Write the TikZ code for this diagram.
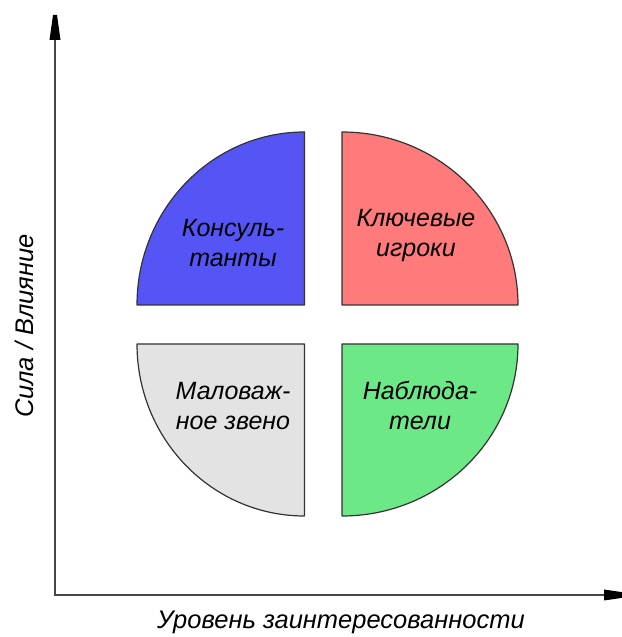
\documentclass[tikz,border=0pt]{standalone}
\usepackage{fontspec}
\setmainfont{Liberation Sans}
\definecolor{qblue}{HTML}{5555F5}
\definecolor{qred}{HTML}{FF7A7A}
\definecolor{qgray}{HTML}{E3E3E3}
\definecolor{qgreen}{HTML}{6DE887}
\definecolor{ink}{HTML}{333333}
\begin{document}
\begin{tikzpicture}[x=1pt,y=1pt,
  quad/.style={draw=ink, line width=1.2pt, line join=round},
  axis/.style={draw=ink!90, line width=1.5pt},
  tip/.style={fill=black},
  lab/.style={font=\itshape\fontsize{25}{30}\selectfont, align=center, anchor=base, inner sep=0pt},
  axlab/.style={font=\itshape\fontsize{25.5}{30}\selectfont, anchor=base, inner sep=0pt}]
\useasboundingbox (0,0) rectangle (621,637);
% quadrants
\path[quad, fill=qblue] (304.5,332) -- (137,332) arc[start angle=180, end angle=90, x radius=167.5, y radius=173] -- cycle;
\path[quad, fill=qred] (342,332) -- (342,505) arc[start angle=90, end angle=0, x radius=176, y radius=173] -- cycle;
\path[quad, fill=qgray] (304.5,293) -- (137,293) arc[start angle=180, end angle=270, x radius=167.5, y radius=172] -- cycle;
\path[quad, fill=qgreen] (342,293) -- (518,293) arc[start angle=0, end angle=-90, x radius=176, y radius=172] -- cycle;
% axes
\coordinate (O) at (55,42);
\coordinate (Ytop) at (55,600);
\coordinate (Xend) at (607,42);
\draw[axis] (Ytop) -- (O) -- (Xend);
\path[tip] (53,622) -- (57,622) -- (60.5,597) -- (49.5,597) -- cycle;
\path[tip] (628,44) -- (628,40) -- (604,36.5) -- (604,47.5) -- cycle;
% labels
\node[lab] (kons) at (233,370) {Консуль-\\танты};
\node[lab] (key) at (416,380) {Ключевые\\игроки};
\node[lab] (malo) at (233,207) {Маловаж-\\ное звено};
\node[lab] (nabl) at (420,207) {Наблюда-\\тели};
\node[axlab] (xl) at (341,9) {Уровень заинтересованности};
\node[axlab, rotate=90] (yl) at (33,311) {Сила / Влияние};
\end{tikzpicture}
\end{document}
